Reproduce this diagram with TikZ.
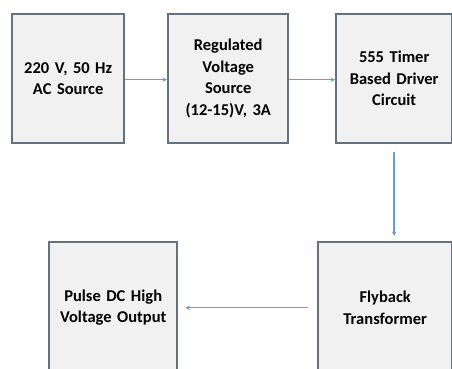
\documentclass[tikz,border=0pt]{standalone}
\usepackage{fontspec}
\setmainfont{Carlito}
\usetikzlibrary{arrows.meta}
\definecolor{boxline}{HTML}{64717E}
\definecolor{boxfill}{HTML}{F1F1F1}
\definecolor{arrowc}{HTML}{6C9BD0}
\tikzset{
  blockbox/.style={draw=boxline, line width=2.4pt, fill=boxfill, anchor=north west,
    font=\bfseries\fontsize{16.5}{21.5}\selectfont, align=center, inner sep=0pt},
  conn/.style={draw=arrowc, line width=1.5pt, -{Stealth[length=4.5pt,width=4.5pt]}}
}
\begin{document}
\begin{tikzpicture}[x=1pt,y=-1pt]
\useasboundingbox (0,0) rectangle (452,369);
\clip (0,0) rectangle (452,369);
\node[blockbox, minimum width=112pt, minimum height=129pt, text width=110pt] (ac) at (11,13) {220 V, 50 Hz\\AC Source};
\node[blockbox, minimum width=120pt, minimum height=129pt, text width=118pt] (reg) at (167,13) {Regulated\\Voltage\\Source\\(12-15)V, 3A};
\node[blockbox, minimum width=116pt, minimum height=129pt, text width=114pt] (tim) at (335,13) {555 Timer\\Based Driver\\Circuit};
\node[blockbox, minimum width=134pt, minimum height=131pt, text width=132pt] (fly) at (317,241) {Flyback\\Transformer};
\node[blockbox, minimum width=128pt, minimum height=131pt, text width=126pt] (out) at (48,241) {Pulse DC High\\Voltage Output};
\draw[conn] ([yshift=-1pt]ac.east) -- ([yshift=-1pt]reg.west);
\draw[conn] ([yshift=-1pt]reg.east) -- ([yshift=-1pt]tim.west);
\draw[conn] ([yshift=-8pt]tim.south) -- ([yshift=5pt]tim.south |- fly.north);
\draw[conn] ([xshift=-9pt]fly.west) -- ([xshift=7pt]out.east);
\end{tikzpicture}
\end{document}
